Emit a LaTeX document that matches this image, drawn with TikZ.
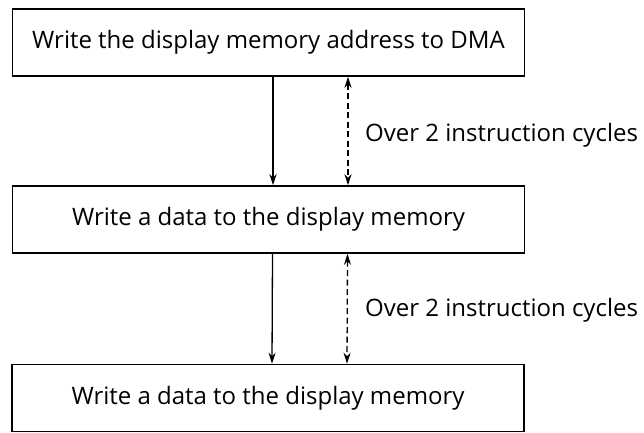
\documentclass[tikz,border=0pt]{standalone}
\usepackage{fontspec}
\setmainfont{Open Sans}
\usetikzlibrary{arrows.meta}
\begin{document}
\begin{tikzpicture}[x=1pt,y=1pt,
  box/.style={draw,line width=1.6pt,minimum width=512pt,minimum height=67pt,inner sep=0pt,font=\fontsize{24}{28}\selectfont},
  flow/.style={line width=1.3pt,-{Stealth[length=11pt,width=7pt]}},
  span/.style={line width=1.3pt,dashed,dash pattern=on 6pt off 3.5pt,{Stealth[length=11pt,width=7pt]}-{Stealth[length=11pt,width=7pt]}},
  lab/.style={anchor=west,inner sep=0pt,font=\fontsize{24}{28}\selectfont}]
\useasboundingbox (0,0) rectangle (644,432);
\node[box] (b1) at (268.5,389.5) {Write the display memory address to DMA};
\node[box] (b2) at (268.5,212.5) {Write a data to the display memory};
\node[box] (b3) at (268,34) {Write a data to the display memory};
\draw[flow] ([xshift=4.5pt]b1.south) -- ([xshift=4.5pt]b2.north);
\draw[span] ([xshift=79.5pt]b1.south) -- ([xshift=79.5pt]b2.north);
\draw[flow] ([xshift=4pt]b2.south) -- ([xshift=4pt]b3.north);
\draw[span] ([xshift=79pt]b2.south) -- ([xshift=79pt]b3.north);
\node[lab] (l1) at (365,297) {Over 2 instruction cycles};
\node[lab] (l2) at (365,122) {Over 2 instruction cycles};
\end{tikzpicture}
\end{document}
